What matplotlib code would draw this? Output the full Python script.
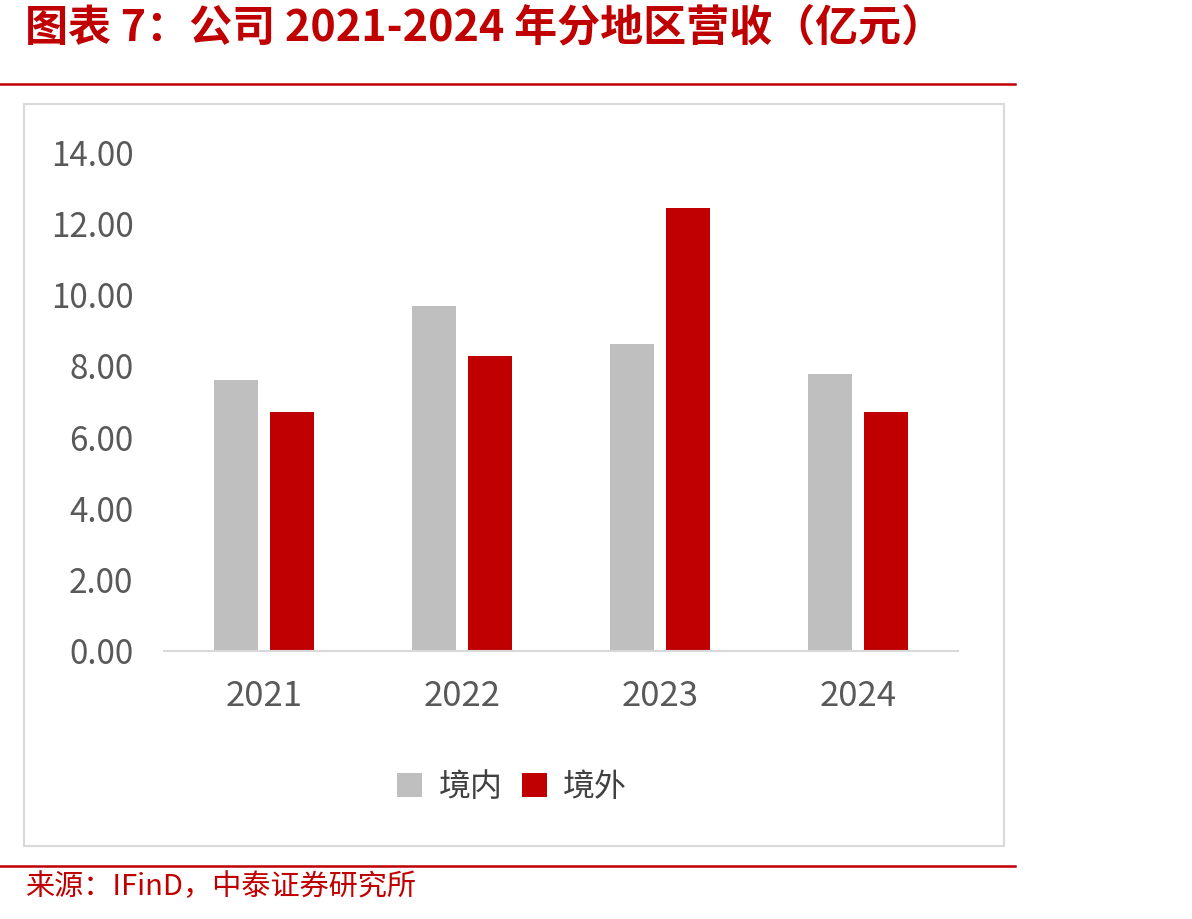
import matplotlib as mpl
mpl.use('Agg')
import matplotlib.pyplot as plt
import numpy as np
from matplotlib.patches import Rectangle
from matplotlib.lines import Line2D

plt.rcParams['font.family'] = ['Noto Sans CJK SC', 'DejaVu Sans']

# data (亿元)
years = ['2021', '2022', '2023', '2024']
domestic = [7.60, 9.68, 8.61, 7.77]   # 境内
overseas = [6.71, 8.28, 12.43, 6.71]  # 境外
yticks = [0, 2, 4, 6, 8, 10, 12, 14]

RED = '#C00000'
GRAY = '#BFBFBF'
W, H = 1192, 919

fig = plt.figure(figsize=(W / 100, H / 100), dpi=100)

# title + red rules + outer frame
fig.text(25 / W, 1 - 27 / H, '图表 7：公司 2021-2024 年分地区营收（亿元）',
         color=RED, fontsize=31, fontweight='bold', fontstyle='italic',
         ha='left', va='center')
fig.add_artist(Line2D([0, 1015 / W], [1 - 84 / H] * 2, color=RED, lw=1.8))
fig.add_artist(Line2D([0, 1015 / W], [1 - 866 / H] * 2, color=RED, lw=1.8))
fig.add_artist(Rectangle((24 / W, 1 - 846 / H), 980 / W, 742 / H,
                         fill=False, ec='#D9D9D9', lw=1.5))
fig.text(25 / W, 1 - 887 / H, '来源：IFinD，中泰证券研究所', color=RED,
         fontsize=21, ha='left', va='center')

ax = fig.add_axes([164 / W, 1 - 651 / H, 794 / W, 499 / H])
x = np.arange(len(years))
bw = 0.222
off = 0.142
ax.bar(x - off, domestic, bw, color=GRAY, label='境内')
ax.bar(x + off, overseas, bw, color=RED, label='境外')

ax.set_xlim(-0.505, 3.505)
ax.set_ylim(0, 14)
ax.set_yticks(yticks)
ax.set_yticklabels([f'{v:.2f}' for v in yticks])
ax.set_xticks(x)
ax.set_xticklabels(years)
ax.tick_params(axis='both', length=0, colors='#595959')
ax.tick_params(axis='y', pad=22, labelsize=24)
ax.tick_params(axis='x', pad=20, labelsize=25)
for s in ['top', 'right', 'left']:
    ax.spines[s].set_visible(False)
ax.spines['bottom'].set_color('#D9D9D9')
ax.spines['bottom'].set_linewidth(1.5)

leg = ax.legend(loc='center', bbox_to_anchor=(512 / W, 1 - 787 / H),
                bbox_transform=fig.transFigure, ncol=2, frameon=False,
                fontsize=23, handlelength=0.8, handleheight=0.8,
                handletextpad=0.5, columnspacing=0.6)
for t in leg.get_texts():
    t.set_color('#404040')

fig.savefig('out.png', dpi=100)
plt.close(fig)
